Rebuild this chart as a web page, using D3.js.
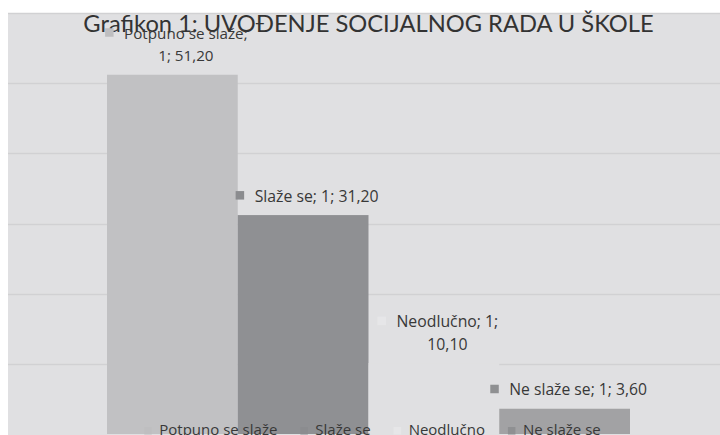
<!DOCTYPE html>
<html>
<head>
<meta charset="utf-8">
<script src="https://cdn.jsdelivr.net/npm/d3@7"></script>
<style>
  body { margin: 0; background: #fff; }
  svg { display: block; }
</style>
</head>
<body>
<svg></svg>
<script>
// podaci
const title = "Grafikon 1: UVOĐENJE SOCIJALNOG RADA U ŠKOLE";
const series = ["Potpuno se slaže", "Slaže se", "Neodlučno", "Ne slaže se"];
const values = [51.20, 31.20, 10.10, 3.60];
const category = "1";
const gridTicks = [10, 20, 30, 40, 50, 60];

const width = 720, height = 435;
const frame = { left: 8, top: 13 };
const plot = { left: 107, right: 630, top: 13, bottom: 434 };
const bg = "#e0e0e2";
const colors = ["#c1c1c3", "#8f9093", bg, "#a2a2a4"];
const markColors = ["#bebec0", "#8b8c8f", "#e6e6e8", "#8f9092"];
const labelFont = "'Open Sans', sans-serif";
const textColor = "#383838";

const fmt = v => d3.format(".2f")(v).replace(".", ",");

const datos = series.map((s, i) => ({ name: s, value: values[i] }));

const svg = d3.select("svg")
    .attr("width", width)
    .attr("height", height)
    .attr("font-family", labelFont);

svg.append("rect")
    .attr("x", frame.left)
    .attr("y", frame.top)
    .attr("width", width - frame.left)
    .attr("height", height - frame.top)
    .attr("fill", bg);

var x = d3.scaleBand()
    .domain(series)
    .range([plot.left, plot.right])
    .padding(0);

var y = d3.scaleLinear()
    .domain([0, 60])
    .range([plot.bottom, plot.top]);

// mreža
svg.append("g")
    .selectAll("line").data(gridTicks).enter().append("line")
    .attr("x1", frame.left)
    .attr("x2", width)
    .attr("y1", d => Math.round(y(d)) + 0.5)
    .attr("y2", d => Math.round(y(d)) + 0.5)
    .attr("stroke", "#d1d1d3")
    .attr("stroke-width", 1.5);

svg.append("g")
    .selectAll("rect").data(datos).enter().append("rect")
    .attr("x", d => x(d.name))
    .attr("y", d => y(d.value))
    .attr("width", x.bandwidth())
    .attr("height", d => y(0) - y(d.value))
    .attr("fill", (d, i) => colors[i]);

svg.append("text")
    .attr("x", 368.5)
    .attr("y", 32)
    .attr("text-anchor", "middle")
    .attr("font-family", "Lato, sans-serif")
    .attr("font-size", 23.7)
    .attr("fill", "#333")
    .text(title);

// oznake podataka
const labelLines = [
    [d => d.name + ";", d => category + "; " + fmt(d.value)],
    [d => d.name + "; " + category + "; " + fmt(d.value)],
    [d => d.name + "; " + category + ";", d => fmt(d.value)],
    [d => d.name + "; " + category + "; " + fmt(d.value)]
];
const labelSize = [15.2, 15.8, 15.8, 15.7];
const lineH = 22.5;

datos.forEach((d, i) => {
    const lines = labelLines[i].map(f => f(d));
    const cx = x(d.name) + x.bandwidth() / 2 + 13.5;
    const lastBase = y(d.value) - 13.5;
    const firstBase = lastBase - (lines.length - 1) * lineH;
    const g = svg.append("g").attr("font-size", labelSize[i]).attr("fill", textColor);
    const texts = lines.map((t, j) => g.append("text")
        .attr("x", cx)
        .attr("y", firstBase + j * lineH)
        .attr("text-anchor", "middle")
        .text(t));
    const w0 = texts[0].node().getComputedTextLength();
    g.append("rect")
        .attr("x", cx - w0 / 2 - 19)
        .attr("y", firstBase - 10.5)
        .attr("width", 8.5)
        .attr("height", 8.5)
        .attr("fill", markColors[i]);
});

// legenda
const legend = svg.append("g")
    .attr("font-size", 15)
    .attr("fill", textColor);
let lx = 0;
series.forEach((s, i) => {
    legend.append("rect")
        .attr("x", lx)
        .attr("y", -7.5)
        .attr("width", 7.5)
        .attr("height", 7.5)
        .attr("fill", markColors[i]);
    const t = legend.append("text")
        .attr("x", lx + 15)
        .attr("y", 0)
        .text(s);
    lx += 15 + t.node().getComputedTextLength() + 23;
});
lx -= 23;
legend.attr("transform", `translate(${372.5 - lx / 2},434.5)`);
</script>
</body>
</html>
